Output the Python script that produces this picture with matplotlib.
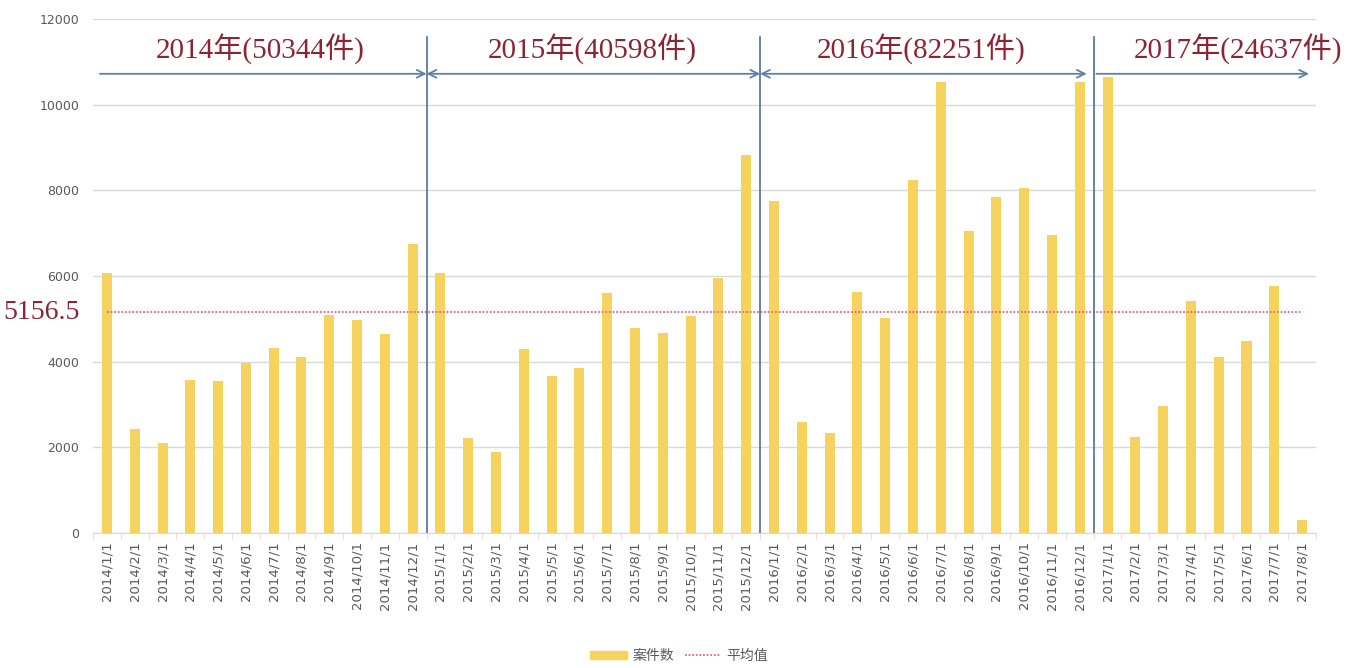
import numpy as np
import matplotlib
matplotlib.use("Agg")
import matplotlib.pyplot as plt
from matplotlib.lines import Line2D
from matplotlib.patches import Patch
from matplotlib.transforms import blended_transform_factory

plt.rcParams['font.family'] = ['DejaVu Sans', 'Noto Sans CJK SC']

# 月份标签 2014/1/1 .. 2017/8/1
months = [f"{y}/{m}/1" for y in (2014, 2015, 2016) for m in range(1, 13)] + \
         [f"2017/{m}/1" for m in range(1, 9)]

# 每月案件数
cases_2014 = [6080, 2420, 2090, 3570, 3550, 3980, 4310, 4100, 5080, 4970, 4650, 6740]
cases_2015 = [6080, 2220, 1890, 4290, 3670, 3850, 5600, 4780, 4660, 5060, 5950, 8820]
cases_2016 = [7750, 2590, 2340, 5630, 5030, 8250, 10540, 7050, 7850, 8060, 6960, 10520]
cases_2017 = [10640, 2230, 2970, 5420, 4100, 4490, 5760, 310]
cases = cases_2014 + cases_2015 + cases_2016 + cases_2017

mean_value = 5156.5
year_labels = ["2014年(50344件)", "2015年(40598件)", "2016年(82251件)", "2017年(24637件)"]

bar_color = '#F6D25E'
arrow_color = '#5E80A6'
sep_color = '#50708F'
note_color = '#8B2535'
grid_color = '#D9D9D9'
tick_color = '#595959'

fig = plt.figure(figsize=(13.64, 6.68), dpi=100)
ax = fig.add_axes([0.0682, 0.2021, 0.8966, 0.7695])

x = np.arange(len(cases))
ax.bar(x, cases, width=0.36, color=bar_color, zorder=2)
ax.plot(x, [mean_value] * len(x), linestyle=(0, (1, 1)), color='#E06A78',
        linewidth=1.3, zorder=3)

ax.set_xlim(-0.5, len(cases) - 0.5)
ax.set_ylim(0, 12000)
ax.set_yticks(range(0, 12001, 2000))
ax.yaxis.grid(True, color=grid_color, linewidth=1)
ax.set_axisbelow(True)
for s in ['top', 'right', 'left']:
    ax.spines[s].set_visible(False)
ax.spines['bottom'].set_color(grid_color)

ax.set_xticks(x)
ax.set_xticklabels(months, rotation=90, fontsize=9.5, color=tick_color)
ax.set_xticks(np.arange(-0.5, len(cases)), minor=True)
ax.tick_params(axis='x', which='major', length=0, pad=6)
ax.tick_params(axis='x', which='minor', length=4, color=grid_color)
ax.tick_params(axis='y', length=0, pad=10, labelsize=9, labelcolor=tick_color)

# 年份分隔线和箭头
for sx in [11.5, 23.5, 35.5]:
    ax.plot([sx, sx], [0, 11580], color=sep_color, linewidth=1.2, zorder=4)

spans = [(-0.25, 11.5, '->'), (11.5, 23.5, '<->'), (23.5, 35.25, '<->'), (35.6, 43.25, '->')]
for x0, x1, style in spans:
    ax.annotate('', xy=(x1, 10720), xytext=(x0, 10720),
                arrowprops=dict(arrowstyle=style, color=arrow_color, lw=1.3,
                                mutation_scale=14, shrinkA=0, shrinkB=0))

label_x = [5.5, 17.45, 29.3, 40.7]
for lx, txt in zip(label_x, year_labels):
    ax.text(lx, 11280, txt, ha='center', va='center', fontsize=21, color=note_color,
            family=['Liberation Serif', 'Noto Sans CJK SC'])

trans = blended_transform_factory(ax.transAxes, ax.transData)
ax.text(-0.0106, mean_value, f"{mean_value}", transform=trans, ha='right', va='center',
        fontsize=20, color=note_color, family=['Liberation Serif'])

handles = [Patch(color=bar_color), Line2D([0], [0], linestyle=(0, (1, 1)),
                                          color='#E06A78', linewidth=1.3)]
fig.legend(handles, ['案件数', '平均值'], loc='center', bbox_to_anchor=(0.498, 0.018),
           ncol=2, frameon=False, fontsize=10, labelcolor=tick_color,
           handlelength=2.6, handleheight=0.6, columnspacing=0.8, handletextpad=0.4,
           prop={'family': ['Noto Sans CJK SC', 'DejaVu Sans'], 'size': 10})

fig.savefig('out.png', dpi=100, facecolor='white')
